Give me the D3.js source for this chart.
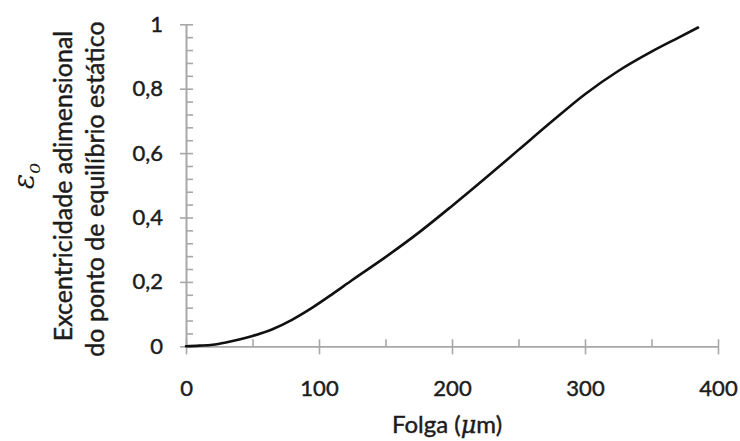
<!DOCTYPE html>
<html>
<head>
<meta charset="utf-8">
<script src="https://cdn.jsdelivr.net/npm/d3@7"></script>
<style>
  html, body { margin: 0; padding: 0; background: #fff; }
  svg { display: block; }
  text { font-family: Lato, "Open Sans", sans-serif; fill: #1c1c1c; }
  .heavy { stroke: #1c1c1c; stroke-width: 0.45px; paint-order: stroke; }
</style>
</head>
<body>
<svg id="chart" width="740" height="441"></svg>
<script>
// Clearance (µm) vs. dimensionless static equilibrium eccentricity
const folga = [0, 10, 20, 30, 40, 50, 65, 80, 95, 110, 125, 150, 175, 200, 225, 250, 275, 300, 325, 350, 370, 385];
const excentricidade = [0, 0.002, 0.005, 0.012, 0.021, 0.032, 0.053, 0.083, 0.12, 0.162, 0.206, 0.277, 0.353, 0.436, 0.522, 0.61, 0.698, 0.783, 0.855, 0.915, 0.958, 0.99];

const xMajorTicks = [0, 100, 200, 300, 400];
const xMinorTicks = [50, 150, 250, 350];
const yMajorTicks = [0, 0.2, 0.4, 0.6, 0.8, 1];
const yMinorTicks = [0.04, 0.08, 0.12, 0.16, 0.24, 0.28, 0.32, 0.36, 0.44, 0.48, 0.52, 0.56,
                     0.64, 0.68, 0.72, 0.76, 0.84, 0.88, 0.92, 0.96];

const svg = d3.select("#chart");
const x = d3.scaleLinear().domain([0, 400]).range([186, 718]);
const y = d3.scaleLinear().domain([0, 1]).range([346.3, 24.3]);

const axisColor = "#a8a8a8";
const fmtY = d => (d === 0 || d === 1) ? String(d) : d3.format(".1f")(d).replace(".", ",");

function styleAxis(g) {
  g.select(".domain").attr("stroke", axisColor).attr("stroke-width", 1.6);
  g.selectAll(".tick line").attr("stroke", axisColor).attr("stroke-width", 1.6);
  g.selectAll(".tick text").attr("fill", "#1c1c1c").attr("class", "heavy").style("font-size", "22px");
}

// x axis: outward major ticks with labels, inward major + minor ticks
svg.append("g")
  .attr("transform", `translate(0,${y(0)})`)
  .call(d3.axisBottom(x).tickValues(xMajorTicks).tickSize(8).tickPadding(26).tickSizeOuter(0).tickFormat(d3.format("d")))
  .call(styleAxis);
svg.append("g")
  .attr("transform", `translate(0,${y(0)})`)
  .call(d3.axisTop(x).tickValues(xMajorTicks.concat(xMinorTicks)).tickSize(7).tickSizeOuter(0).tickFormat(""))
  .call(styleAxis);

// y axis: outward major ticks with labels, inward major + minor ticks
svg.append("g")
  .attr("transform", `translate(${x(0)},0)`)
  .call(d3.axisLeft(y).tickValues(yMajorTicks).tickSize(6).tickPadding(17).tickSizeOuter(0).tickFormat(fmtY))
  .call(styleAxis);
svg.append("g")
  .attr("transform", `translate(${x(0)},0)`)
  .call(d3.axisRight(y).tickValues(yMajorTicks.concat(yMinorTicks)).tickSize(7).tickSizeOuter(0).tickFormat(""))
  .call(styleAxis);

// curve
const line = d3.line()
  .x((d, i) => x(folga[i]))
  .y(d => y(d))
  .curve(d3.curveMonotoneX);
svg.append("path")
  .datum(excentricidade)
  .attr("d", line)
  .attr("fill", "none")
  .attr("stroke", "#111")
  .attr("stroke-width", 2.6)
  .attr("stroke-linecap", "round");

// y axis titles
svg.append("text")
  .attr("class", "heavy")
  .attr("transform", "translate(72,186) rotate(-90)")
  .attr("text-anchor", "middle")
  .style("font-size", "25px")
  .text("Excentricidade adimensional");
svg.append("text")
  .attr("class", "heavy")
  .attr("transform", "translate(104,189) rotate(-90)")
  .attr("text-anchor", "middle")
  .style("font-size", "25px")
  .text("do ponto de equilíbrio estático");

const eps = svg.append("text")
  .attr("transform", "translate(34,176) rotate(-90)")
  .attr("text-anchor", "middle")
  .style("font-family", "'DejaVu Serif', serif")
  .style("font-style", "italic")
  .style("font-size", "29px")
  .attr("fill", "#1a1a3a");
eps.append("tspan").text("ε");
eps.append("tspan").attr("dy", 6).style("font-size", "18px").text("o");

// x axis title
const xt = svg.append("text")
  .attr("class", "heavy")
  .attr("x", 447)
  .attr("y", 433)
  .attr("text-anchor", "middle")
  .style("font-size", "24px");
xt.append("tspan").text("Folga (");
xt.append("tspan").style("font-family", "'DejaVu Serif', serif").style("font-style", "italic").text("μ");
xt.append("tspan").text("m)");
</script>
</body>
</html>
